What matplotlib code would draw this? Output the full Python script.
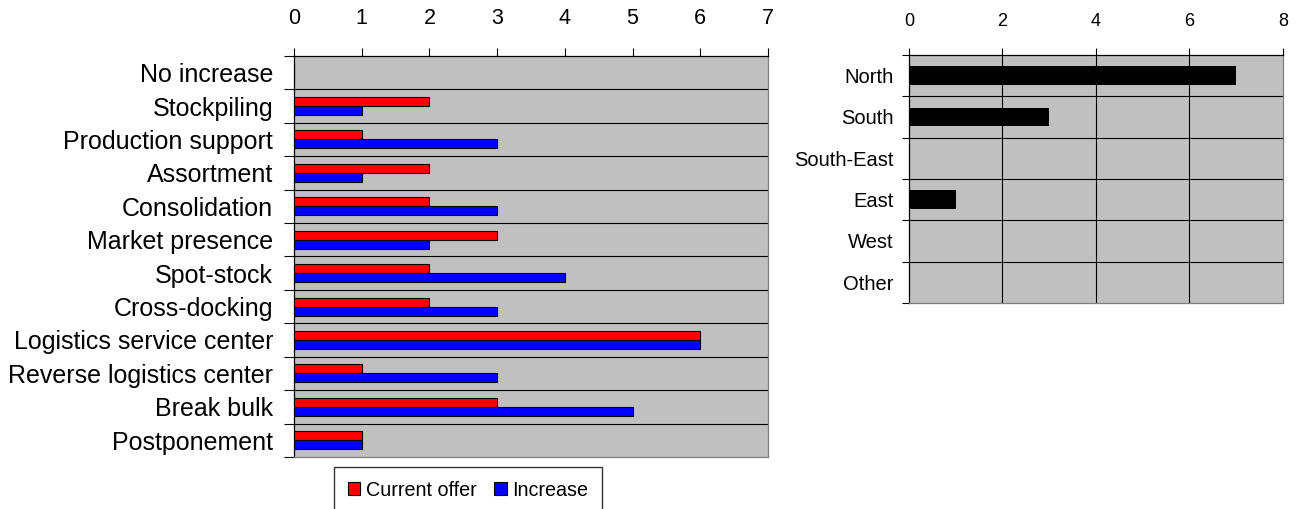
import numpy as np
import matplotlib.pyplot as plt

plt.rcParams['font.family'] = ['Liberation Sans', 'DejaVu Sans']

# left chart data
services = ['No increase', 'Stockpiling', 'Production support', 'Assortment',
            'Consolidation', 'Market presence', 'Spot-stock', 'Cross-docking',
            'Logistics service center', 'Reverse logistics center',
            'Break bulk', 'Postponement']
current_offer = [0, 2, 1, 2, 2, 3, 2, 2, 6, 1, 3, 1]
increase = [0, 1, 3, 1, 3, 2, 4, 3, 6, 3, 5, 1]

# right chart data
regions = ['North', 'South', 'South-East', 'East', 'West', 'Other']
region_counts = [7, 3, 0, 1, 0, 0]

fig = plt.figure(figsize=(13.03, 5.09), dpi=100)
bg = '#c0c0c0'

# ---- left chart
ax = fig.add_axes([0.2256, 0.1022, 0.3638, 0.788])
n = len(services)
y = np.arange(n)
h = 0.27
ax.barh(y - h / 2, current_offer, height=h, color='#ff0000', edgecolor='black', linewidth=0.8,
        label='Current offer', zorder=3)
ax.barh(y + h / 2, increase, height=h, color='#0000ff', edgecolor='black', linewidth=0.8,
        label='Increase', zorder=3)
ax.set_facecolor(bg)
ax.set_xlim(0, 7)
ax.set_ylim(n - 0.5, -0.5)
ax.xaxis.tick_top()
ax.set_xticks(range(8))
ax.tick_params(axis='x', direction='out', length=6, labelsize=15.5, pad=13, width=0.8)
ax.set_yticks(y)
ax.set_yticklabels(services)
ax.tick_params(axis='y', which='major', length=0, labelsize=18, pad=15)
ax.set_yticks(np.arange(-0.5, n), minor=True)
ax.tick_params(axis='y', which='minor', length=7, width=0.8)
for b in np.arange(0.5, n - 0.5):
    ax.axhline(b, color='black', linewidth=0.8, zorder=1)
ax.spines['left'].set_color('black')
ax.spines['top'].set_color('black')
ax.spines['right'].set_color('#808080')
ax.spines['bottom'].set_color('#808080')
for s in ax.spines.values():
    s.set_linewidth(0.9)

fig.legend(loc='upper left', bbox_to_anchor=(334 / 1303, 1 - 467 / 509), ncol=2,
           fontsize=14.2, frameon=True, fancybox=False, edgecolor='black',
           handlelength=0.62, handleheight=0.62, handletextpad=0.3, columnspacing=0.9,
           borderpad=0.7, borderaxespad=0)

# ---- right chart
ax2 = fig.add_axes([0.6976, 0.4047, 0.287, 0.4873])
m = len(regions)
y2 = np.arange(m)
ax2.barh(y2, region_counts, height=0.45, color='black', zorder=3)
ax2.set_facecolor(bg)
ax2.set_xlim(0, 8)
ax2.set_ylim(m - 0.5, -0.5)
ax2.xaxis.tick_top()
ax2.set_xticks(range(0, 9, 2))
ax2.tick_params(axis='x', direction='out', length=5, labelsize=13, pad=13, width=0.8)
ax2.set_yticks(y2)
ax2.set_yticklabels(regions)
ax2.tick_params(axis='y', which='major', length=0, labelsize=14.5, pad=11)
ax2.set_yticks(np.arange(-0.5, m), minor=True)
ax2.tick_params(axis='y', which='minor', length=5, width=0.8)
for b in np.arange(0.5, m - 0.5):
    ax2.axhline(b, color='black', linewidth=0.8, zorder=1)
for v in [2, 4, 6]:
    ax2.axvline(v, color='black', linewidth=0.8, zorder=1)
ax2.spines['left'].set_color('black')
ax2.spines['top'].set_color('black')
ax2.spines['right'].set_color('#808080')
ax2.spines['bottom'].set_color('#808080')
for s in ax2.spines.values():
    s.set_linewidth(0.9)

fig.savefig('out.png', dpi=100)
